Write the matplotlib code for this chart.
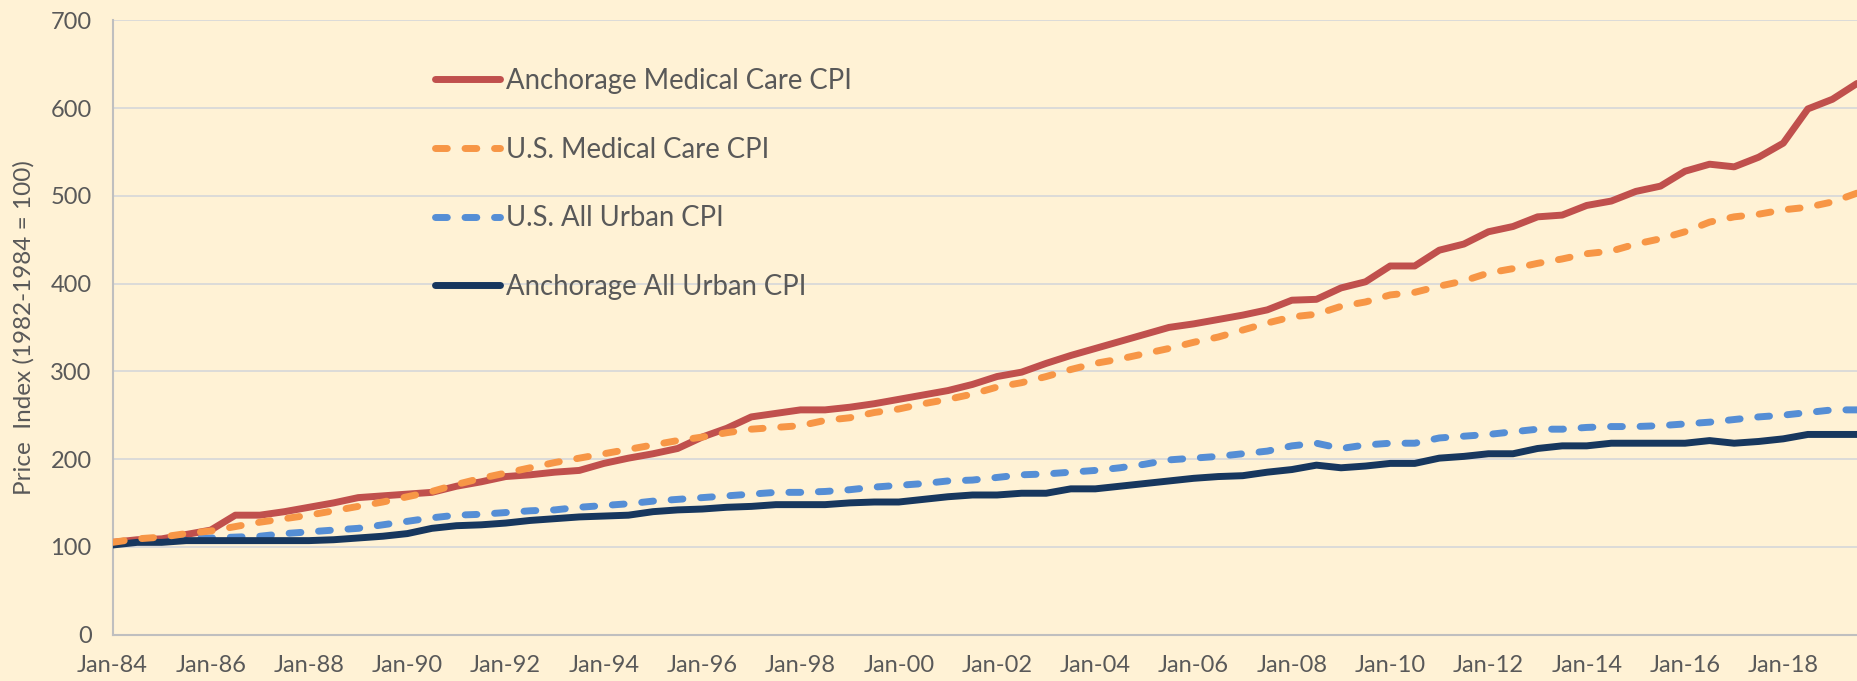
import matplotlib
matplotlib.use("Agg")
import matplotlib.pyplot as plt

# ---- data (semiannual, Jan-84 .. Jul-19) ----
tick_labels = ["Jan-84", "Jan-86", "Jan-88", "Jan-90", "Jan-92", "Jan-94", "Jan-96",
               "Jan-98", "Jan-00", "Jan-02", "Jan-04", "Jan-06", "Jan-08", "Jan-10",
               "Jan-12", "Jan-14", "Jan-16", "Jan-18"]

anc_medical = [105, 108, 109, 114, 119, 136, 136, 140, 145, 150, 156, 158, 160, 162,
               169, 174, 180, 182, 185, 187, 195, 201, 206, 212, 225, 235, 248, 252,
               256, 256, 259, 263, 268, 273, 278, 285, 294, 299, 309, 318, 326, 334,
               342, 350, 354, 359, 364, 370, 381, 382, 395, 402, 420, 420, 438, 445,
               459, 465, 476, 478, 489, 494, 505, 511, 528, 536, 533, 544, 560, 599,
               610, 628]

us_medical = [105, 109, 111, 115, 118, 123, 128, 132, 136, 141, 146, 151, 157, 163,
              171, 178, 184, 190, 196, 201, 206, 211, 216, 221, 225, 230, 234, 236,
              238, 244, 247, 253, 257, 263, 268, 274, 282, 287, 294, 302, 309, 314,
              320, 326, 333, 339, 347, 355, 362, 365, 374, 379, 387, 390, 397, 403,
              412, 417, 423, 428, 434, 437, 445, 451, 459, 470, 476, 479, 484, 487,
              493, 503]

us_all_urban = [103, 107, 108, 109, 110, 111, 112, 115, 117, 119, 121, 125, 129, 133,
                136, 137, 139, 141, 142, 145, 147, 149, 152, 154, 156, 158, 160, 162,
                162, 163, 165, 168, 170, 172, 175, 176, 179, 182, 183, 185, 187, 190,
                194, 199, 201, 203, 206, 209, 215, 218, 212, 216, 218, 218, 224, 226,
                228, 231, 234, 234, 236, 237, 237, 238, 240, 242, 245, 248, 250, 253,
                256, 256]

anc_all_urban = [102, 105, 105, 107, 107, 107, 107, 107, 107, 108, 110, 112, 115, 121,
                 124, 125, 127, 130, 132, 134, 135, 136, 140, 142, 143, 145, 146, 148,
                 148, 148, 150, 151, 151, 154, 157, 159, 159, 161, 161, 166, 166, 169,
                 172, 175, 178, 180, 181, 185, 188, 193, 190, 192, 195, 195, 201, 203,
                 206, 206, 212, 215, 215, 218, 218, 218, 218, 221, 218, 220, 223, 228,
                 228, 228]

series_names = ["Anchorage Medical Care CPI", "U.S. Medical Care CPI",
                "U.S. All Urban CPI", "Anchorage All Urban CPI"]

# ---- style ----
BG = "#FFF2D5"
TXT = "#595959"
FONT = ["Lato", "DejaVu Sans"]
plt.rcParams["font.family"] = FONT

fig = plt.figure(figsize=(18.57, 6.81), dpi=100, facecolor=BG)
ax = fig.add_axes([112.5 / 1857, 1 - 634.5 / 681, 1 - 112.5 / 1857, (634.5 - 20.3) / 681])
ax.set_facecolor(BG)

x = list(range(len(anc_medical)))
lw = 5.0
dash = [1.7, 2.55]

ax.plot(x, anc_medical, color="#C0504D", lw=lw, solid_joinstyle="round",
        solid_capstyle="round", label=series_names[0], zorder=3)
ax.plot(x, us_medical, color="#F79646", lw=lw, dashes=dash, dash_capstyle="round",
        dash_joinstyle="round", label=series_names[1], zorder=4)
ax.plot(x, us_all_urban, color="#558ED5", lw=lw, dashes=dash, dash_capstyle="round",
        dash_joinstyle="round", label=series_names[2], zorder=3)
ax.plot(x, anc_all_urban, color="#17375E", lw=lw, solid_joinstyle="round",
        solid_capstyle="round", label=series_names[3], zorder=3)

ax.set_xlim(0, len(x) - 1)
ax.set_ylim(0, 700)
ax.set_yticks(range(0, 701, 100))
ax.set_xticks(range(0, 4 * len(tick_labels), 4))
ax.set_xticklabels(tick_labels)

ax.grid(axis="y", color="#D9D9D9", lw=1.3, zorder=0)
ax.grid(axis="x", visible=False)
ax.set_axisbelow(True)
for s in ["top", "right"]:
    ax.spines[s].set_visible(False)
for s in ["left", "bottom"]:
    ax.spines[s].set_color("#BFBFBF")
    ax.spines[s].set_linewidth(1.5)

ax.tick_params(axis="both", length=0, labelsize=17, labelcolor=TXT)
ax.tick_params(axis="x", pad=15)
ax.tick_params(axis="y", pad=15)

ax.set_ylabel("Price  Index (1982-1984 = 100)", fontsize=17.5, color=TXT, labelpad=11)

leg = ax.legend(loc="upper left", bbox_to_anchor=((435 - 112.5) / 1744.5, (634.5 - 68) / 614.2),
                frameon=False, fontsize=19.8, handlelength=2.35, handletextpad=0.25,
                labelspacing=1.55, borderpad=0, borderaxespad=0)
for t in leg.get_texts():
    t.set_color(TXT)

fig.savefig("out.png", dpi=100, facecolor=BG)
